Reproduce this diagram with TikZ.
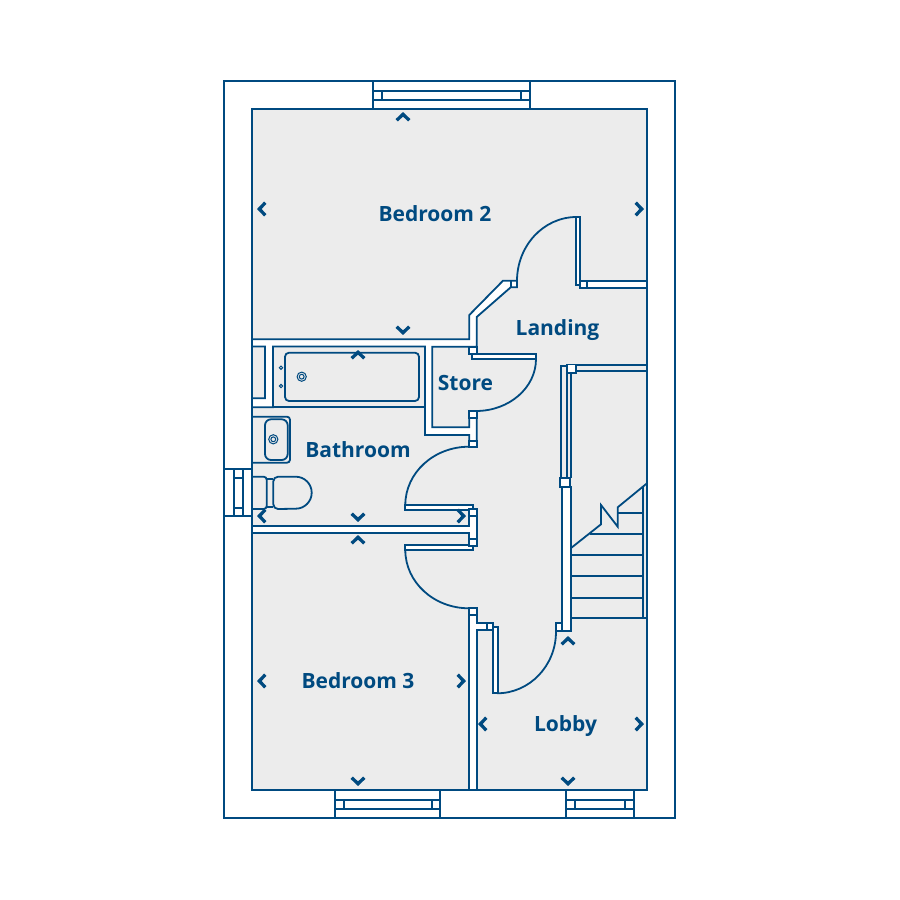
\documentclass[tikz,border=0pt]{standalone}
\usepackage{fontspec}
\setmainfont{Open Sans}
\definecolor{planblue}{HTML}{004A80}
\definecolor{roomgrey}{HTML}{ECECEC}
\tikzset{
  wall/.style={draw=planblue,line width=1.8pt,line join=miter,fill=white},
  thin/.style={draw=planblue,line width=1.8pt},
  roomfill/.style={draw=planblue,line width=1.9pt,fill=roomgrey},
  chevron/.style={draw=planblue,line width=3.3pt,line cap=butt,line join=miter},
  label/.style={text=planblue,font=\fontsize{21}{25}\selectfont\bfseries,inner sep=0pt,anchor=base},
}
\begin{document}
\begin{tikzpicture}[x=1pt,y=-1pt]
\useasboundingbox (0,0) rectangle (900,900);
\fill[white] (0,0) rectangle (900,900);
% outer shell and rooms
\draw[wall] (224,81) rectangle (675,818);
\draw[roomfill] (252,109) rectangle (647,790);
% top window
\draw[wall] (373.3,81) rectangle (530,109);
\draw[thin] (373.3,90.7) -- (530,90.7) (373.3,100) -- (530,100) (381.7,90.7) -- (381.7,100) (521,90.7) -- (521,100);
% bottom windows
\draw[wall] (335.3,790) rectangle (440,818);
\draw[thin] (335.3,800) -- (440,800) (335.3,809) -- (440,809) (344.3,800) -- (344.3,809) (431.7,800) -- (431.7,809);
\draw[wall] (566,790) rectangle (634,818);
\draw[thin] (566,800) -- (634,800) (566,809) -- (634,809) (575,800) -- (575,809) (625,800) -- (625,809);
% left window
\draw[wall] (224,468.7) rectangle (252,516);
\draw[thin] (234,468.7) -- (234,516) (242.7,468.7) -- (242.7,516) (234,478) -- (242.7,478) (234,508) -- (242.7,508);
% walls
\draw[wall] (252,339.3) -- (469.3,339.3) -- (469.3,315) -- (503,280.7) -- (517,280.7) -- (517,287.3) -- (510.7,287.3) -- (476.7,317) -- (476.7,346.7) -- (469.3,346.7) -- (432.3,346.7) -- (432.3,427.3) -- (469.3,427.3) -- (469.3,411) -- (476.7,411) -- (476.7,446.7) -- (469.3,446.7) -- (469.3,435) -- (425,435) -- (425,346.5) -- (273,346.5) -- (273,407.3) -- (252,407.3) -- (252,398.3) -- (265,398.3) -- (265,346.5) -- (252,346.5) -- cycle;
\draw[thin] (273,407.3) -- (425,407.3) (510.7,280.7) -- (510.7,287.3);
\draw[wall] (252,525.7) -- (469.3,525.7) -- (469.3,515.7) -- (476.7,515.7) -- (476.7,539) -- (469.3,539) -- (469.3,532.7) -- (252,532.7) -- cycle;
\draw[wall] (469.3,615) -- (469.3,790) -- (477,790) -- (477,630) -- (486.7,630) -- (486.7,623.3) -- (476.7,623.3) -- (476.7,615) -- cycle;
\draw[wall] (561.7,487) rectangle (570.7,631);
\draw[thin] (567,478.3) -- (567,366) -- (560.7,366) -- (560.7,478.3);
\draw[thin] (570.7,373) -- (570.7,478.3);
\draw[wall] (586.7,280.7) rectangle (647,287.7);
% stairs
\draw[thin] (570.7,555) -- (643.3,555) (570.7,576) -- (643.3,576) (570.7,597.7) -- (643.3,597.7) (570.7,618.3) -- (647,618.3) (590,533.7) -- (643.3,533.7) (618.3,513.3) -- (643.3,513.3) (643.3,486) -- (643.3,618.3);
\draw[thin,line join=miter] (570.7,548.3) -- (601,524.3) -- (601,505) -- (617.7,526.7) -- (617.7,507.3) -- (647,483.3);
\draw[thin] (575.7,365) -- (647,365) (575.7,371) -- (647,371);
% door leaves
\draw[wall] (575.7,217) rectangle (580.3,285);
\draw[wall] (471.7,354) rectangle (536,359);
\draw[wall] (405.3,505) rectangle (473.3,510);
\draw[wall] (405.3,545) rectangle (473.3,550);
\draw[wall] (492.7,626.7) rectangle (497.7,693.3);
% jambs
\draw[wall] (580.3,280.7) rectangle (586.7,287.7);
\draw[wall] (469.3,346.7) rectangle (476.7,354);
\draw[wall] (469.3,411) rectangle (476.7,418);
\draw[wall] (469.3,440.7) rectangle (476.7,446.7);
\draw[wall] (469.3,509.3) rectangle (476.7,515.7);
\draw[wall] (469.3,539) rectangle (476.7,546);
\draw[wall] (469.3,608.3) rectangle (476.7,615);
\draw[wall] (486.7,623.3) rectangle (492.7,630);
\draw[wall] (555.7,623.3) rectangle (561.7,631);
\draw[wall] (560,478.3) rectangle (570.3,487);
\draw[wall] (566.7,364.5) rectangle (575.7,373);
% door swings
\draw[thin] (517,281) arc[start angle=180,end angle=90,x radius=59.5,y radius=-64];
\draw[thin] (536,359) arc[start angle=0,end angle=-90,x radius=60,y radius=-52];
\draw[thin] (469,446.7) arc[start angle=90,end angle=180,x radius=63.7,y radius=-58.3];
\draw[thin] (405.3,550) arc[start angle=180,end angle=270,x radius=63.7,y radius=-58.3];
\draw[thin] (497,693.3) arc[start angle=270,end angle=360,x radius=59,y radius=-61.6];
% bath
\draw[thin,rounded corners=4pt] (285,352.7) rectangle (419,401);
\draw[planblue,line width=1pt] (281,367.7) circle[radius=1.7] (281,386) circle[radius=1.7];
\draw[planblue,line width=1pt] (301.7,376.7) circle[radius=4.6] (301.7,376.7) circle[radius=2.4];
% basin
\draw[thin,rounded corners=3pt] (252,416.7) -- (290,416.7) -- (290,462.7) -- (252,462.7);
\draw[thin,rounded corners=6pt] (265,419.3) rectangle (287.7,460);
\draw[planblue,line width=1pt] (273.3,439.3) circle[radius=4.6] (273.3,439.3) circle[radius=2.4];
% toilet
\draw[thin,rounded corners=3pt] (252,476.7) -- (266.7,476.7) -- (266.7,509) -- (252,509);
\draw[thin] (266.7,479) -- (273.3,479) (266.7,506.7) -- (273.3,506.7);
\draw[thin] (278,476.7) -- (295.7,476.7) arc[start angle=90,end angle=-90,x radius=16,y radius=-16] -- (278,509) arc[start angle=270,end angle=180,x radius=4.7,y radius=-4.7] -- (273.3,481.4) arc[start angle=180,end angle=90,x radius=4.7,y radius=-4.7] -- cycle;
% chevrons
\foreach \n/\x/\y in {upa/403/116,upb/358/354,upc/358/539,upd/568/640}
  \draw[chevron] (\x-6.3,\y+4.3) -- (\x,\y-1.7) -- (\x+6.3,\y+4.3);
\foreach \n/\x/\y in {dna/403/331,dnb/358/518,dnc/358/782,dnd/568/782}
  \draw[chevron] (\x-6.3,\y-4.3) -- (\x,\y+1.7) -- (\x+6.3,\y-4.3);
\foreach \n/\x/\y in {lfa/262/209,lfb/262/516,lfc/262/681,lfd/483/724}
  \draw[chevron] (\x+3.3,\y-6.3) -- (\x-2.7,\y) -- (\x+3.3,\y+6.3);
\foreach \n/\x/\y in {rta/639/209,rtb/461/516,rtc/461/681,rtd/639/724}
  \draw[chevron] (\x-3.3,\y-6.3) -- (\x+2.7,\y) -- (\x-3.3,\y+6.3);
% labels
\node[label] (bed2) at (435,221) {Bedroom 2};
\node[label] (land) at (557.5,335) {Landing};
\node[label] (stor) at (465.5,390) {Store};
\node[label] (bath) at (358,457) {Bathroom};
\node[label] (bed3) at (358,688) {Bedroom 3};
\node[label] (lobb) at (565.5,731) {Lobby};
\end{tikzpicture}
\end{document}
